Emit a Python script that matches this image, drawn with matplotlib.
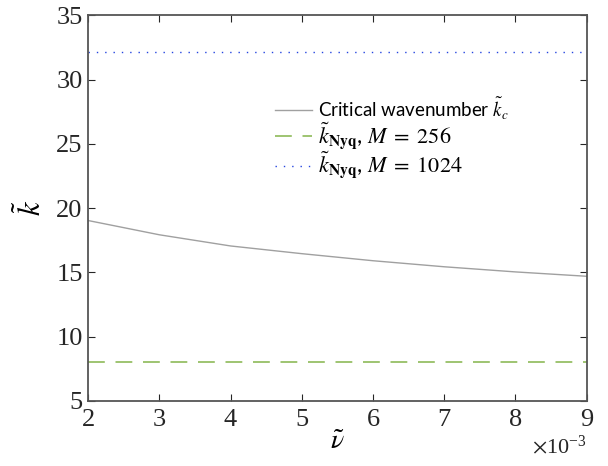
import matplotlib
matplotlib.use('Agg')
import numpy as np
import matplotlib.pyplot as plt
from matplotlib.ticker import ScalarFormatter

# data
nu = [0.002, 0.003, 0.004, 0.005, 0.006, 0.007, 0.008, 0.009]
k_crit = [19.03, 17.92, 17.05, 16.45, 15.90, 15.43, 15.03, 14.69]
M_vals = [256, 1024]
k_nyq = [8.04, 32.17]

plt.rcParams['mathtext.fontset'] = 'stix'
plt.rcParams['font.family'] = 'Liberation Serif'

fig = plt.figure(figsize=(6.08, 4.66), dpi=100)
ax = fig.add_axes([0.145, 0.14, 0.82, 0.827])

ax.plot(nu, k_crit, color='#a0a0a0', lw=1.0,
        label=r'Critical wavenumber $\tilde{k}_c$')
ax.plot([nu[0], nu[-1]], [k_nyq[0], k_nyq[0]], color='#84b44a', lw=1.1,
        ls=(0, (11, 7)), label=r'$\tilde{k}_{\mathbf{Nyq}}$, $M\;=\;%d$' % M_vals[0])
ax.plot([nu[0], nu[-1]], [k_nyq[1], k_nyq[1]], color='#2545e0', lw=1.0,
        ls=(0, (1, 5)), label=r'$\tilde{k}_{\mathbf{Nyq}}$, $M\;=\;%d$' % M_vals[1])

ax.set_xlim(0.002, 0.009)
ax.set_ylim(5, 35)
ax.set_xticks(nu)
ax.set_yticks(range(5, 36, 5))

fmt = ScalarFormatter(useMathText=True)
fmt.set_powerlimits((-2, 2))
ax.xaxis.set_major_formatter(fmt)
ax.xaxis.get_offset_text().set_fontsize(16)

ax.tick_params(direction='in', length=5, width=0.8, colors='#262626',
               labelsize=19, top=True, right=True, pad=4)
ax.tick_params(axis='x', pad=6)
for s in ax.spines.values():
    s.set_color('#555555')
    s.set_linewidth(1.3)

ax.set_xlabel(r'$\tilde{\nu}$', fontsize=20, labelpad=-1)
ax.set_ylabel(r'$\tilde{k}$', fontsize=22, labelpad=6)

leg = ax.legend(loc='upper left', bbox_to_anchor=(0.34, 0.836), frameon=False,
                handlelength=2.0, handletextpad=0.3, labelspacing=-0.08,
                prop={'family': 'Lato', 'size': 13.5})
for t in leg.get_texts()[1:]:
    t.set_fontsize(16)

plt.savefig('out.png', dpi=100)
